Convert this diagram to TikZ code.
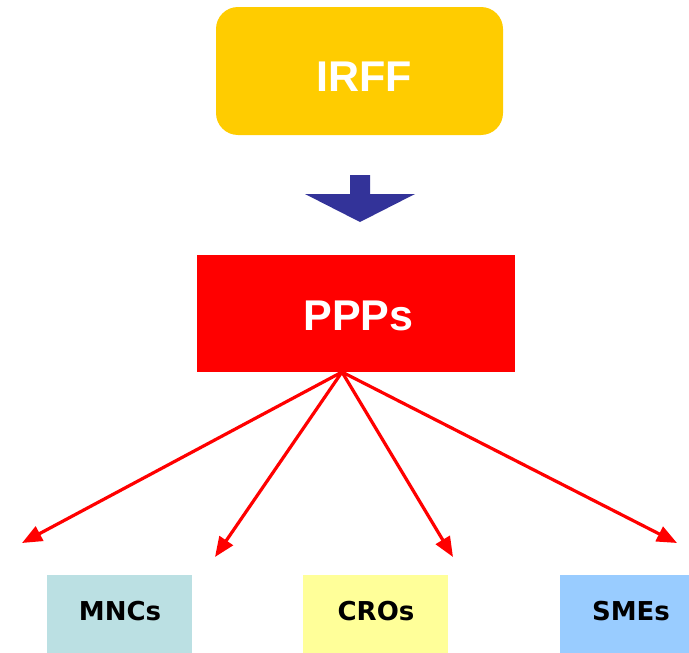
\documentclass[tikz,border=0pt]{standalone}
\usepackage{fontspec}
\newfontfamily\headfont{Liberation Sans}
\newfontfamily\labelfont{DejaVu Sans}
\usetikzlibrary{arrows.meta}
\definecolor{irffgold}{HTML}{FFCC00}
\definecolor{pppred}{HTML}{FF0000}
\definecolor{navyarrow}{HTML}{333399}
\definecolor{mncteal}{HTML}{BBE0E3}
\definecolor{croyellow}{HTML}{FFFF99}
\definecolor{smeblue}{HTML}{99CCFF}
\tikzset{
  headbox/.style={inner sep=0pt, text=white, font=\headfont\bfseries\fontsize{43}{43}\selectfont, text depth=0pt},
  lowtext/.style={inner sep=0pt, text=black, font=\labelfont\bfseries\fontsize{26}{26}\selectfont, anchor=base},
  link/.style={draw=pppred, line width=3.2pt, -{Triangle[length=20pt,width=16pt]}}
}
\begin{document}
\begin{tikzpicture}[x=1pt,y=-1pt]
  \useasboundingbox (0,0) rectangle (689,653);
  % top box
  \node[headbox, fill=irffgold, rounded corners=22pt, minimum width=287pt, minimum height=128pt, text height=40pt] (irff) at (359.5,71) {\hspace*{9pt}IRFF};
  % block arrow pointing down
  \fill[navyarrow] (350,175) -- (370,175) -- (370,194) -- (415,194) -- (360,222) -- (305,194) -- (350,194) -- cycle;
  % middle box
  \node[headbox, fill=pppred, minimum width=318pt, minimum height=117pt, text height=33pt] (ppps) at (356,313.5) {\hspace*{5pt}PPPs};
  % bottom boxes, running off the lower and right edges
  \fill[mncteal] (47,575) rectangle (192,660);
  \fill[croyellow] (303,575) rectangle (448,660);
  \fill[smeblue] (560,575) rectangle (700,660);
  \node[lowtext] (mnc) at (120,620) {MNCs};
  \node[lowtext] (cro) at (376,620) {CROs};
  \node[lowtext] (sme) at (631,620) {SMEs};
  % fan of red arrows
  \coordinate (hub) at (342,372);
  \coordinate (e1) at (22,543);
  \coordinate (e2) at (215,557);
  \coordinate (e3) at (453,557);
  \coordinate (e4) at (677,543);
  \draw[link] (hub) -- (e1);
  \draw[link] (hub) -- (e2);
  \draw[link] (hub) -- (e3);
  \draw[link] (hub) -- (e4);
\end{tikzpicture}
\end{document}
